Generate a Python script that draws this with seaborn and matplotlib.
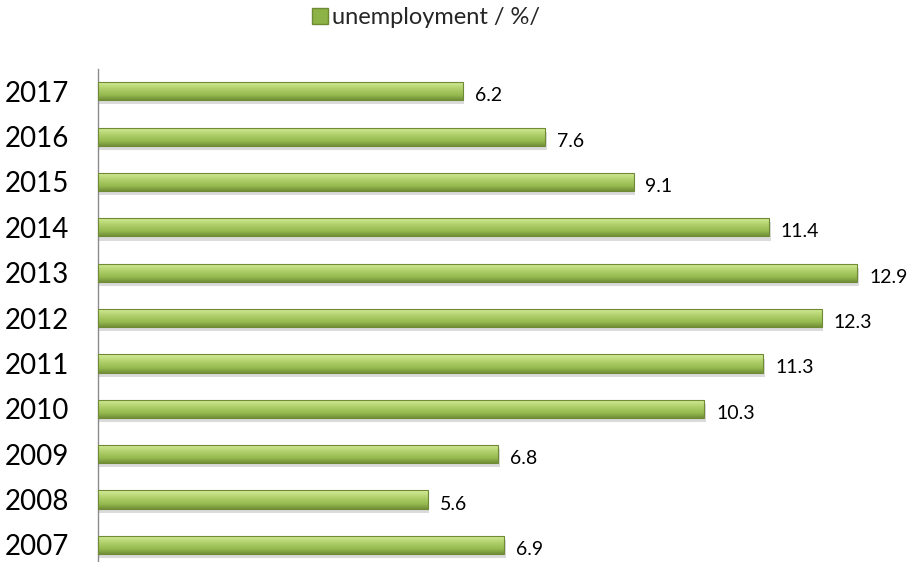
import numpy as np
import pandas as pd
import matplotlib
matplotlib.use("Agg")
import matplotlib.pyplot as plt
import matplotlib.patheffects as pe
from matplotlib.colors import LinearSegmentedColormap
from matplotlib.patches import Rectangle
import seaborn as sns

# data
years = ["2017", "2016", "2015", "2014", "2013", "2012", "2011", "2010", "2009", "2008", "2007"]
unemployment = [6.2, 7.6, 9.1, 11.4, 12.9, 12.3, 11.3, 10.3, 6.8, 5.6, 6.9]
series_name = "unemployment / %/"

df = pd.DataFrame({"year": years, "value": unemployment})

sns.set_style("white")
plt.rcParams["font.family"] = ["Lato", "DejaVu Sans"]

fig = plt.figure(figsize=(9.15, 5.62), dpi=100)
ax = fig.add_axes([98 / 915, -0.010, 0.875, 0.888])

sns.barplot(data=df, x="value", y="year", orient="h", color="#9BBB59",
            width=0.4, ax=ax, edgecolor="none")

# gradient fill + bevel look on each bar (light top, darker bottom)
grad = LinearSegmentedColormap.from_list(
    "g", ["#D8EE9C", "#BEDB7C", "#A8C962", "#95B84F", "#728F38"])
for p in ax.patches:
    x0, y0 = p.get_x(), p.get_y()
    w, h = p.get_width(), p.get_height()
    p.set_path_effects([pe.SimplePatchShadow(offset=(1, -3), shadow_rgbFace="#9a9a9a", alpha=0.35),
                        pe.Normal()])
    img = ax.imshow(np.linspace(0, 1, 64).reshape(-1, 1), cmap=grad, aspect="auto",
                    extent=(x0, x0 + w, y0 + h, y0), origin="upper",
                    interpolation="bicubic", zorder=3)
    img.set_clip_path(p)
    ax.add_patch(Rectangle((x0, y0), w, h, fill=False, edgecolor="#6E8A35",
                           linewidth=0.8, zorder=4))

ax.set_xlim(0, 13.6)
ax.set_ylim(len(years) - 0.5, -0.5)

for i, v in enumerate(unemployment):
    ax.text(v + 0.2, i + 0.1, f"{v}", va="center", ha="left", fontsize=14, color="#000000")

ax.set_xlabel("")
ax.set_ylabel("")
ax.set_xticks([])
ax.tick_params(axis="y", length=0, labelsize=20, pad=21)
for lab in ax.get_yticklabels():
    lab.set_color("#000000")
sns.despine(ax=ax, top=True, right=True, bottom=True, left=False)
ax.spines["left"].set_color("#8c8c8c")
ax.spines["left"].set_linewidth(1.0)

# legend at top
handle = Rectangle((0, 0), 1, 1, facecolor="#8DB346", edgecolor="#6E8A35")
fig.legend([handle], [series_name], loc="upper center", bbox_to_anchor=(0.466, 1.025),
           frameon=False, fontsize=17, handlelength=0.65, handleheight=0.65,
           handletextpad=0.2)

fig.savefig("out.png", dpi=100)
